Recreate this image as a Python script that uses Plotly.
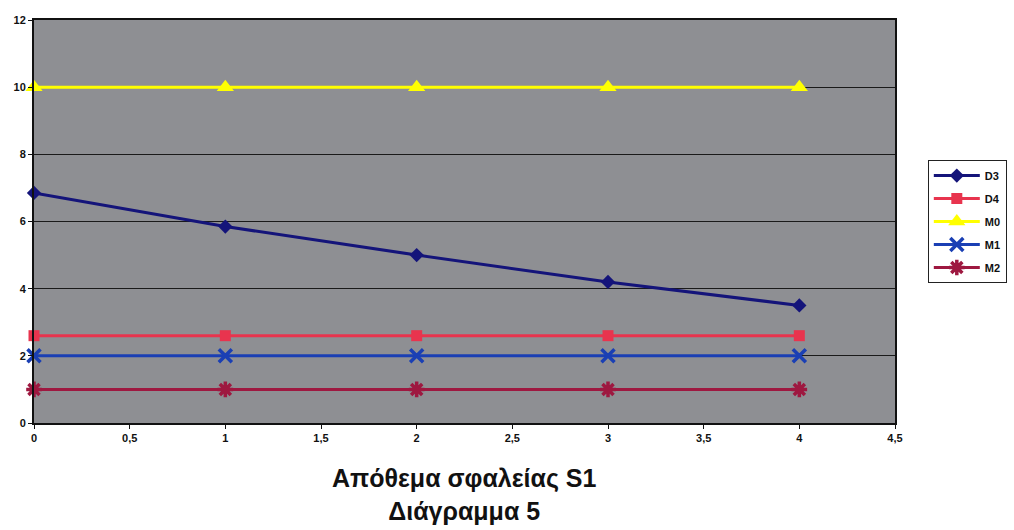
import plotly.graph_objects as go

# Period index along the horizontal axis
x_vals = [0, 1, 2, 3, 4]

# Series values
d3 = [6.85, 5.85, 5.0, 4.2, 3.5]
d4 = [2.6, 2.6, 2.6, 2.6, 2.6]
m0 = [10, 10, 10, 10, 10]
m1 = [2.0, 2.0, 2.0, 2.0, 2.0]
m2 = [1.0, 1.0, 1.0, 1.0, 1.0]

series_names = ["D3", "D4", "M0", "M1", "M2"]
series_vals = [d3, d4, m0, m1, m2]
series_colors = ["#14147a", "#e8344e", "#ffff00", "#1a3fb4", "#9e1840"]
series_symbols = ["diamond", "square", "triangle-up", "x-thin", "asterisk"]
series_sizes = [11, 11, 15, 13, 13]

fig = go.Figure()
for name, vals, col, sym, sz in zip(series_names, series_vals, series_colors,
                                    series_symbols, series_sizes):
    line_sym = sym in ("x-thin", "asterisk")
    fig.add_trace(go.Scatter(
        x=x_vals, y=vals, name=name, mode="lines+markers",
        legendgroup=name,
        line=dict(color=col, width=3),
        marker=dict(symbol=sym, size=sz, color=col,
                    line=dict(color=col, width=3.5 if line_sym else 0)),
        cliponaxis=False,
    ))

tick_font = dict(family="Liberation Sans, Arial", size=11, color="#111111",
                 weight="bold")

fig.update_layout(
    width=1014, height=530,
    margin=dict(l=34, r=119, t=20, b=107, autoexpand=False),
    paper_bgcolor="white",
    plot_bgcolor="#8e8f93",
    separators=", ",
    showlegend=True,
    legend=dict(
        xref="container", yref="container",
        x=0.915, y=0.698, xanchor="left", yanchor="top",
        bgcolor="white", bordercolor="#222222", borderwidth=1,
        font=dict(family="Liberation Sans, Arial", size=11, color="#111111",
                  weight="bold"),
        tracegroupgap=4, itemwidth=46,
    ),
    xaxis=dict(
        range=[0, 4.5], dtick=0.5, tick0=0,
        showgrid=False, zeroline=False,
        showline=True, linecolor="#111111", linewidth=2, mirror=True,
        ticks="outside", ticklen=4, tickcolor="#111111",
        tickfont=tick_font,
    ),
    yaxis=dict(
        range=[0, 12], dtick=2, tick0=0,
        showgrid=True, gridcolor="#1a1a1a", gridwidth=1,
        zeroline=False,
        showline=True, linecolor="#111111", linewidth=2, mirror=True,
        ticks="outside", ticklen=4, tickcolor="#111111",
        tickfont=tick_font,
    ),
    annotations=[
        dict(text="Απόθεμα σφαλείας S1<br>Διάγραμμα 5",
             xref="paper", yref="paper", x=0.5, y=-0.097,
             xanchor="center", yanchor="top", showarrow=False,
             font=dict(family="Liberation Sans, Arial", size=25,
                       color="#111111", weight="bold")),
    ],
)

fig.write_html("out.html")
